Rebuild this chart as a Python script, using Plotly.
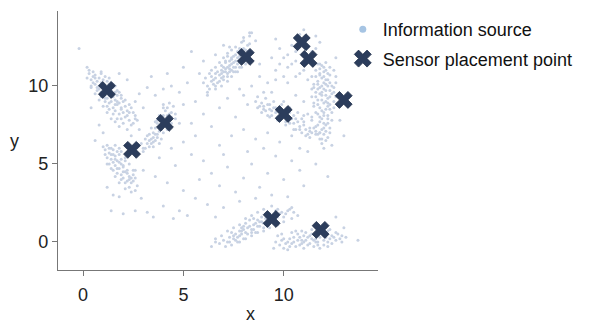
"""Information sources vs. sensor placement points."""

import plotly.graph_objects as go

# --- information sources, grouped by cluster ---
cluster_a_x = [0.3, 0.5, 0.4, 0.6, 0.7, 0.8, 0.6, 0.9, 1.0, 0.8, 1.1, 1.2, 1.0, 1.3, 1.4, 1.2, 1.5, 1.4, 1.6, 1.3,
               1.7, 1.5, 1.8, 1.6, 1.9, 1.8, 2.0, 2.1, 1.9, 2.3, 2.2, 1.1, 0.9, 1.6, 1.7, 1.3, 0.5, 1.0, 2.4, 2.5,
               0.4, 1.9, 1.2, 2.6, 1.5, 0.7,
               0.5, 0.9, 1.1, 0.7, 1.2, 1.4, 0.9, 1.6, 1.1, 1.8, 1.3, 2.0, 1.5, 2.1, 1.7, 2.3, 2.0, 2.6, 1.0, 1.4,
               1.6, 1.2, 0.6, 0.8, 1.9, 1.5, 1.1, 1.7, 2.2, 2.4,
               0.2, 0.4, 0.9, 1.3, 0.6, 1.5, 0.8, 1.7, 1.0, 1.9, 1.2, 2.1, 1.4, 2.3, 1.6, 2.5, 1.8, 2.7, 2.2, 0.3]
cluster_a_y = [10.8, 10.6, 10.4, 10.7, 10.3, 10.5, 10.1, 10.2, 10.0, 9.8, 9.9, 9.6, 9.5, 9.4, 9.7, 9.2, 9.3, 9.0, 9.1, 8.9,
               8.8, 8.6, 8.9, 8.4, 8.5, 8.2, 8.3, 8.0, 7.9, 7.8, 8.4, 9.2, 9.6, 9.6, 9.4, 10.1, 10.9, 10.4, 8.6, 7.6,
               9.9, 9.2, 8.7, 8.1, 9.9, 9.9,
               10.2, 10.8, 10.6, 9.7, 10.3, 10.2, 9.3, 10.0, 9.0, 9.6, 8.5, 9.0, 8.2, 8.7, 7.9, 8.3, 7.6, 7.9, 9.8, 9.4,
               8.8, 9.9, 10.5, 10.0, 8.6, 9.5, 9.4, 9.0, 8.1, 7.5,
               10.5, 10.0, 10.9, 10.5, 9.5, 10.1, 9.1, 9.7, 8.7, 9.4, 8.3, 9.1, 7.9, 8.8, 7.7, 8.3, 7.4, 7.8, 7.2, 11.0]

cluster_b_x = [1.2, 1.4, 1.3, 1.5, 1.6, 1.4, 1.7, 1.8, 1.6, 1.9, 1.8, 2.0, 2.1, 1.9, 2.2, 2.0, 2.3, 2.2, 2.4, 2.5,
               1.5, 1.2, 2.1, 1.7, 2.3, 1.1, 2.6, 1.8,
               1.3, 1.5, 1.7, 1.3, 1.6, 1.9, 2.0, 1.7, 2.2, 2.1, 2.4, 1.4, 1.8, 2.0, 2.3, 1.5, 2.5, 1.9, 2.7, 2.6,
               1.0, 1.1, 1.6, 1.9, 1.2, 1.4, 2.1, 2.3, 1.6, 1.8, 2.5, 2.6, 2.1, 2.4]
cluster_b_y = [6.2, 6.0, 5.7, 5.9, 5.5, 5.3, 5.2, 5.6, 4.9, 5.0, 4.7, 4.8, 4.5, 4.3, 4.6, 4.1, 4.2, 3.9, 3.8, 4.3,
               5.1, 5.4, 5.2, 4.4, 3.5, 5.9, 4.6, 6.0,
               6.0, 5.6, 5.8, 5.0, 5.3, 5.3, 4.5, 4.7, 4.4, 3.8, 4.1, 5.6, 5.1, 4.9, 4.0, 4.6, 3.9, 4.0, 3.6, 3.3,
               6.1, 5.6, 6.2, 5.8, 5.0, 4.7, 5.4, 5.0, 4.2, 3.8, 4.6, 4.1, 3.4, 3.2]

cluster_c_x = [3.0, 3.2, 3.3, 3.4, 3.5, 3.6, 3.7, 3.8, 3.6, 3.9, 4.0, 4.1, 3.9, 4.2, 4.3, 4.1, 4.4, 3.5, 3.2, 3.8,
               4.5, 4.3, 3.1, 4.0, 3.7, 4.6,
               3.3, 3.5, 3.7, 3.8, 4.0, 4.2, 3.9, 4.1, 4.3, 3.6, 3.4, 4.0, 4.4, 3.7,
               2.9, 3.1, 3.5, 3.3, 3.9, 3.4, 4.2, 3.6, 4.4, 3.8, 4.6, 4.0, 4.2, 3.0]
cluster_c_y = [6.0, 6.3, 6.1, 6.6, 6.4, 6.9, 6.7, 7.1, 7.3, 7.4, 7.0, 7.8, 7.9, 8.1, 7.6, 8.4, 8.3, 7.0, 6.8, 6.3,
               8.7, 8.9, 6.6, 8.6, 7.6, 7.9,
               6.5, 6.7, 6.9, 7.3, 7.6, 7.9, 7.2, 7.5, 8.2, 6.5, 6.3, 8.1, 8.0, 7.8,
               6.3, 6.0, 6.1, 6.9, 6.6, 7.3, 7.2, 7.7, 7.6, 8.1, 8.2, 8.8, 8.6, 5.8]

cluster_d_x = [6.2, 6.4, 6.5, 6.6, 6.7, 6.8, 6.9, 7.0, 7.1, 6.9, 7.2, 7.3, 7.4, 7.5, 7.4, 7.6, 7.7, 7.8, 7.6, 7.9,
               8.0, 7.8, 8.1, 7.3, 7.1, 7.0, 6.6, 8.2, 7.9, 8.3, 6.0, 6.3, 7.5, 8.1, 7.2,
               6.4, 6.6, 6.8, 6.9, 7.0, 7.1, 7.2, 7.3, 7.4, 7.5, 7.6, 7.7, 7.8, 7.9, 7.5, 7.7, 8.0, 8.1, 6.9, 7.2,
               7.6, 6.7, 8.2, 8.0, 8.3, 7.0, 7.4, 6.5, 7.3, 7.8,
               6.1, 6.3, 6.6, 6.8, 7.0, 7.2, 7.4, 7.6, 6.6, 6.9, 7.2, 7.4, 7.7, 7.9, 8.1, 8.3, 8.4, 7.1, 6.4, 7.3,
               8.0, 8.3, 6.2]
cluster_d_y = [10.0, 10.3, 10.1, 10.5, 10.2, 10.7, 10.5, 10.9, 11.1, 11.0, 10.8, 11.3, 11.0, 11.5, 11.7, 11.2, 11.8, 11.6,
               12.0, 12.1, 11.9, 12.4, 12.3, 11.6, 11.5, 10.4, 10.8, 12.6, 12.8, 13.2, 10.2, 9.8, 10.9, 11.6, 11.9,
               10.6, 10.0, 10.3, 10.8, 10.6, 10.9, 11.2, 10.9, 11.4, 11.2, 11.6, 11.4, 11.9, 11.7, 11.9, 12.2, 12.4, 12.0,
               11.3, 10.6, 10.9, 10.9, 12.2, 12.9, 12.7, 11.2, 11.8, 10.4, 11.1, 11.2,
               10.5, 10.8, 11.2, 11.5, 11.8, 12.1, 12.3, 12.5, 9.8, 10.0, 10.3, 10.6, 10.9, 11.2, 11.4, 11.8, 12.2, 11.6,
               11.0, 12.5, 13.1, 13.4, 9.6]

cluster_e_x = [8.6, 8.9, 9.0, 9.2, 9.3, 9.5, 9.6, 9.8, 9.9, 10.1, 10.2, 10.4, 10.5, 10.7, 10.8, 11.0, 11.1, 11.3, 11.4, 11.6,
               9.4, 10.3, 10.9, 9.1, 11.2, 8.7, 10.6, 11.7,
               9.0, 9.3, 9.6, 9.7, 10.0, 10.3, 10.6, 10.8, 11.0, 11.3, 11.5, 9.4, 10.1, 10.5, 11.1, 11.8, 9.2, 8.8,
               8.7, 9.1, 9.5, 9.9, 10.3, 10.7, 11.0, 11.4, 8.9, 9.3, 9.7, 10.1, 10.5, 10.9, 11.3, 11.8]
cluster_e_y = [9.0, 8.9, 8.7, 8.8, 8.5, 8.6, 8.3, 8.4, 8.1, 8.0, 7.8, 7.9, 7.6, 7.7, 7.4, 7.5, 7.2, 7.3, 7.0, 7.1,
               8.1, 8.3, 7.9, 8.4, 6.9, 8.6, 7.2, 6.9,
               8.5, 8.8, 8.6, 8.0, 8.4, 7.6, 7.9, 7.2, 7.7, 7.1, 7.3, 8.4, 7.7, 8.1, 6.8, 7.0, 8.1, 8.7,
               9.3, 9.2, 9.0, 8.8, 8.6, 8.3, 8.1, 7.8, 8.3, 8.0, 7.8, 7.5, 7.2, 7.0, 6.7, 6.6]

cluster_f_x = [11.9, 12.1, 11.8, 12.0, 12.3, 11.7, 12.0, 12.2, 11.8, 12.1, 11.6, 12.4, 11.9, 12.2, 11.7, 12.0, 12.3, 11.8,
               12.1, 11.6, 12.0, 12.2, 11.8, 12.1, 11.9, 12.0, 12.3, 11.5, 12.5, 12.2, 11.7, 12.4, 11.9, 12.6,
               11.8, 12.0, 12.2, 11.9, 12.1, 11.7, 11.9, 12.3, 12.0, 12.3, 11.8, 12.1, 11.6, 12.3, 11.9, 12.1, 11.7,
               12.2, 11.9, 12.3, 11.7, 12.0, 12.2, 11.9, 12.0, 11.7, 12.2, 11.8, 12.1, 12.2, 11.6, 12.4, 11.5, 12.5, 12.0,
               11.4, 11.5, 11.4, 11.5, 11.4, 11.6, 11.6, 12.5, 12.6, 12.5, 12.6, 12.5, 12.4, 12.3, 12.1, 11.7, 12.1,
               12.3, 11.9, 12.0, 11.8, 12.2, 11.9, 12.1, 11.8]
cluster_f_y = [11.3, 11.0, 10.8, 10.6, 10.7, 10.3, 10.2, 10.0, 9.9, 9.7, 9.6, 9.5, 9.4, 9.2, 9.1, 8.9, 8.8, 8.6,
               8.5, 8.3, 8.1, 7.9, 7.7, 7.5, 7.2, 6.9, 7.3, 8.9, 9.0, 10.4, 9.8, 8.3, 6.6, 10.2,
               11.1, 10.9, 10.8, 10.5, 10.4, 10.1, 10.0, 10.2, 9.8, 9.7, 9.5, 9.4, 9.3, 9.3, 9.1, 9.0, 8.8,
               8.7, 8.4, 8.5, 8.2, 8.3, 8.1, 7.9, 7.6, 7.5, 7.6, 7.0, 7.1, 6.7, 10.6, 10.0, 9.9, 9.6, 11.2,
               10.6, 10.1, 9.3, 8.7, 8.0, 7.4, 6.9, 11.0, 10.6, 9.9, 9.3, 8.6, 7.8, 7.0, 6.5, 11.4, 11.5,
               11.2, 6.3, 7.3, 8.0, 8.9, 9.6, 10.1, 10.7]

cluster_g_x = [7.0, 7.2, 7.3, 7.5, 7.6, 7.8, 7.9, 8.1, 8.2, 8.4, 8.5, 8.7, 8.8, 9.0, 9.1, 9.3, 9.5, 9.7, 9.9, 10.1,
               10.3, 8.0, 8.6, 9.2, 7.7, 8.3, 9.6, 7.4, 8.9, 10.5, 6.8,
               7.3, 7.5, 7.7, 7.9, 8.0, 8.2, 8.3, 8.5, 8.6, 8.8, 8.9, 9.1, 9.2, 9.4, 9.6, 9.8, 10.0, 10.2, 8.1, 8.4,
               8.7, 9.0, 7.6, 7.9, 9.3, 8.5, 7.8, 9.7, 10.4, 8.0,
               6.9, 7.2, 7.5, 7.8, 8.1, 8.4, 8.7, 9.0, 9.4, 7.4, 7.8, 8.1, 8.4, 8.7, 9.0, 9.3, 9.7, 10.0, 10.4, 10.7,
               6.6, 7.1]
cluster_g_y = [0.1, 0.0, 0.3, 0.2, 0.5, 0.4, 0.7, 0.6, 0.9, 0.8, 1.1, 1.0, 1.3, 1.2, 1.5, 1.4, 1.7, 1.6, 1.9, 1.8,
               2.1, 1.0, 0.6, 1.0, 0.0, 1.4, 2.0, 0.6, 1.6, 1.9, -0.1,
               0.0, 0.4, 0.3, 0.5, 0.8, 0.5, 1.0, 0.8, 1.2, 1.0, 1.3, 1.1, 1.6, 1.3, 1.5, 1.8, 1.6, 2.0, 1.2, 0.6,
               1.4, 0.9, 0.1, 0.9, 1.8, 1.5, 0.7, 2.1, 2.2, 0.2,
               0.4, 0.7, 0.9, 1.1, 1.5, 1.7, 1.9, 2.1, 2.3, -0.2, 0.0, 0.2, 0.4, 0.6, 0.7, 0.9, 1.1, 1.3, 1.5, 1.7,
               0.0, -0.3]

cluster_h_x = [9.6, 9.8, 10.0, 10.2, 10.3, 10.5, 10.7, 10.8, 11.0, 11.1, 11.3, 11.4, 11.6, 11.7, 11.9, 12.1, 12.2, 12.4,
               12.6, 12.8, 10.4, 11.5, 12.0, 10.9, 12.3, 9.7, 11.2, 12.7,
               9.9, 10.1, 10.3, 10.5, 10.6, 10.8, 11.0, 11.2, 11.3, 11.5, 11.6, 11.8, 12.0, 12.1, 12.3, 12.5, 12.4,
               10.7, 11.1, 11.7, 12.2, 10.0, 10.9, 11.4, 12.9,
               9.5, 9.9, 10.2, 10.6, 11.0, 11.4, 11.8, 12.2, 12.6, 12.9, 13.1, 10.4, 11.6, 12.0, 10.9]
cluster_h_y = [0.0, -0.2, 0.2, 0.0, -0.3, 0.3, 0.1, -0.2, 0.4, 0.1, -0.1, 0.5, 0.2, 0.0, 0.6, 0.3, 0.0, 0.4,
               0.1, 0.2, 0.6, -0.3, -0.2, 0.7, 0.8, 0.4, 0.3, 0.5,
               0.1, -0.1, 0.2, 0.0, -0.3, 0.3, 0.0, -0.2, 0.4, 0.1, 0.5, 0.3, 0.1, 0.5, 0.2, 0.3, -0.1,
               0.5, 0.6, -0.2, 0.7, -0.4, 0.1, 0.2, 0.4,
               -0.4, 0.5, -0.5, 0.7, -0.4, 0.8, -0.4, -0.3, 0.6, 0.0, 0.3, -0.1, 0.0, 0.4, -0.1]

scatter_x = [-0.2, 0.8, 1.0, 0.6, 1.2, 1.5, 1.8, 1.4, 2.0, 2.6, 3.2, 3.5, 2.9, 4.0, 4.5, 4.8, 5.2, 5.0, 5.6, 5.8,
             4.2, 3.6, 3.0, 4.6, 5.4, 6.0, 6.4, 6.8, 7.2, 7.6, 8.0, 8.4, 8.8, 9.2, 9.6, 10.0, 10.4, 10.8, 11.2, 11.6,
             12.0, 6.2, 6.6, 7.0, 7.8, 8.6, 9.4, 10.2, 11.0, 12.2, 12.6, 13.0, 13.7, 6.6, 6.4,
             2.8, 3.2, 3.6, 4.0, 4.4, 4.8, 5.2, 5.0, 5.6, 5.4, 6.0, 6.4, 6.8, 7.2, 7.6, 8.0, 8.4, 8.8, 9.2, 9.6,
             10.0, 10.4, 10.8, 10.2, 9.8, 10.6, 11.0, 11.4, 11.6, 11.2, 10.8, 11.8, 9.4, 8.8, 8.6, 8.4, 9.0, 8.2, 7.8,
             6.2, 5.8, 5.0, 2.2, 2.6, 3.0, 2.4, 2.8, 5.0, 4.8, 5.6, 6.8, 7.4, 8.0, 8.6, 9.2, 9.8, 10.4, 10.8, 7.0,
             8.2, 9.0, 3.8, 4.4, 0.4, 0.2, 1.8, 3.4, 4.2, 12.6, 12.8, 13.0, 12.4, 11.4, 11.0, 10.6, 9.4, 7.0, 6.6,
             6.0, 5.4, 9.6, 10.0, 11.2,
             10.2, 10.6, 11.0, 10.4, 11.6, 11.8, 10.0, 9.8, 10.8, 11.4, 10.6, 10.2, 9.6, 11.2, 11.6, 11.0]
scatter_y = [12.4, 7.5, 7.0, 6.5, 3.5, 3.0, 2.9, 2.0, 1.8, 2.0, 1.9, 1.6, 2.8, 2.3, 1.5, 2.0, 1.7, 3.3, 2.8, 4.0,
             3.8, 4.2, 4.6, 4.9, 5.6, 5.2, 4.4, 3.6, 4.8, 3.2, 4.1, 5.0, 3.5, 4.4, 5.5, 4.0, 5.2, 4.6, 5.8, 5.0,
             6.0, 2.4, 1.6, 2.2, 2.6, 2.8, 3.0, 2.9, 3.6, 4.2, 1.6, 0.9, 0.1, 0.2, -0.3,
             9.5, 9.9, 9.4, 9.8, 10.0, 9.6, 10.2, 8.8, 9.0, 7.6, 8.2, 7.4, 8.6, 9.2, 8.0, 9.4, 10.0, 10.6, 10.2, 11.0,
             10.6, 11.4, 10.8, 12.0, 12.4, 12.2, 11.0, 12.2, 11.0, 13.0, 13.3, 12.8, 11.8, 11.4, 12.9, 13.4, 9.6, 8.8, 9.8,
             9.4, 10.8, 11.2, 10.4, 9.0, 8.6, 6.8, 7.2, 6.4, 7.6, 6.8, 6.2, 6.8, 7.2, 6.6, 7.0, 6.4, 6.8, 6.0, 5.6,
             5.8, 6.0, 5.4, 6.0, 8.6, 11.2, 10.8, 10.6, 10.8, 11.8, 7.8, 6.8, 6.2, 9.8, 9.0, 9.4, 9.6, 12.6, 12.0,
             11.6, 12.2, 13.0, 9.0, 8.2,
             11.2, 11.6, 12.0, 12.6, 12.4, 11.4, 11.8, 11.4, 12.8, 11.6, 10.6, 10.2, 10.4, 10.4, 13.2, 13.6]

# --- sensor placement points ---
sensor_x = [1.19, 2.44, 4.08, 8.11, 10.9, 11.24, 12.99, 10.0, 9.4, 11.84]
sensor_y = [9.74, 5.9, 7.63, 11.86, 12.8, 11.73, 9.1, 8.2, 1.47, 0.77]

source_x = (cluster_a_x + cluster_b_x + cluster_c_x + cluster_d_x + cluster_e_x + cluster_f_x
            + cluster_g_x + cluster_h_x + scatter_x)
source_y = (cluster_a_y + cluster_b_y + cluster_c_y + cluster_d_y + cluster_e_y + cluster_f_y
            + cluster_g_y + cluster_h_y + scatter_y)

FONT = "Liberation Sans, Arial, sans-serif"

fig = go.Figure()
fig.add_trace(go.Scatter(
    x=source_x, y=source_y, mode="markers", showlegend=False,
    marker=dict(size=3, color="#c8d2e3"),
))
# legend-only swatch for the sources (bigger, lighter blue dot like the original)
fig.add_trace(go.Scatter(
    x=[None], y=[None], mode="markers", name="Information source", legendgroup="src",
    marker=dict(size=7, color="#a6c4e3"),
))
fig.add_trace(go.Scatter(
    x=sensor_x, y=sensor_y, mode="markers", name="Sensor placement point", legendgroup="sensor",
    marker=dict(symbol="x", size=15, color="#2c3d5c", line=dict(width=0.8, color="#22314d")),
))

axis_common = dict(
    showgrid=False, zeroline=False, showline=True, linecolor="#777777", linewidth=1.3,
    ticks="outside", ticklen=5, tickcolor="#777777",
    tickfont=dict(family=FONT, size=18, color="#222222"),
)
fig.update_xaxes(range=[-1.25, 14.7], tickvals=[0, 5, 10], ticklabelstandoff=3, **axis_common)
fig.update_yaxes(range=[-1.8, 14.8], tickvals=[0, 5, 10], **axis_common)

fig.add_annotation(text="x", xref="paper", yref="paper", x=0.6, y=-0.216,
                   showarrow=False, font=dict(family=FONT, size=18, color="#222222"))
fig.add_annotation(text="y", xref="paper", yref="paper", x=-0.157, y=0.5,
                   showarrow=False, font=dict(family=FONT, size=18, color="#222222"))

# page body keeps its default 8px margin, so the figure is 8px smaller on each axis
fig.update_layout(
    width=597, height=323,
    margin=dict(l=50, r=227, t=3, b=61, autoexpand=False),
    plot_bgcolor="white", paper_bgcolor="white",
    font=dict(family=FONT, size=18, color="#222222"),
    legend=dict(x=0.89, y=1.0, xanchor="left", yanchor="top", bgcolor="rgba(0,0,0,0)",
                itemsizing="trace", tracegroupgap=3, font=dict(family=FONT, size=18, color="#111111")),
)

fig.write_html("out.html")
